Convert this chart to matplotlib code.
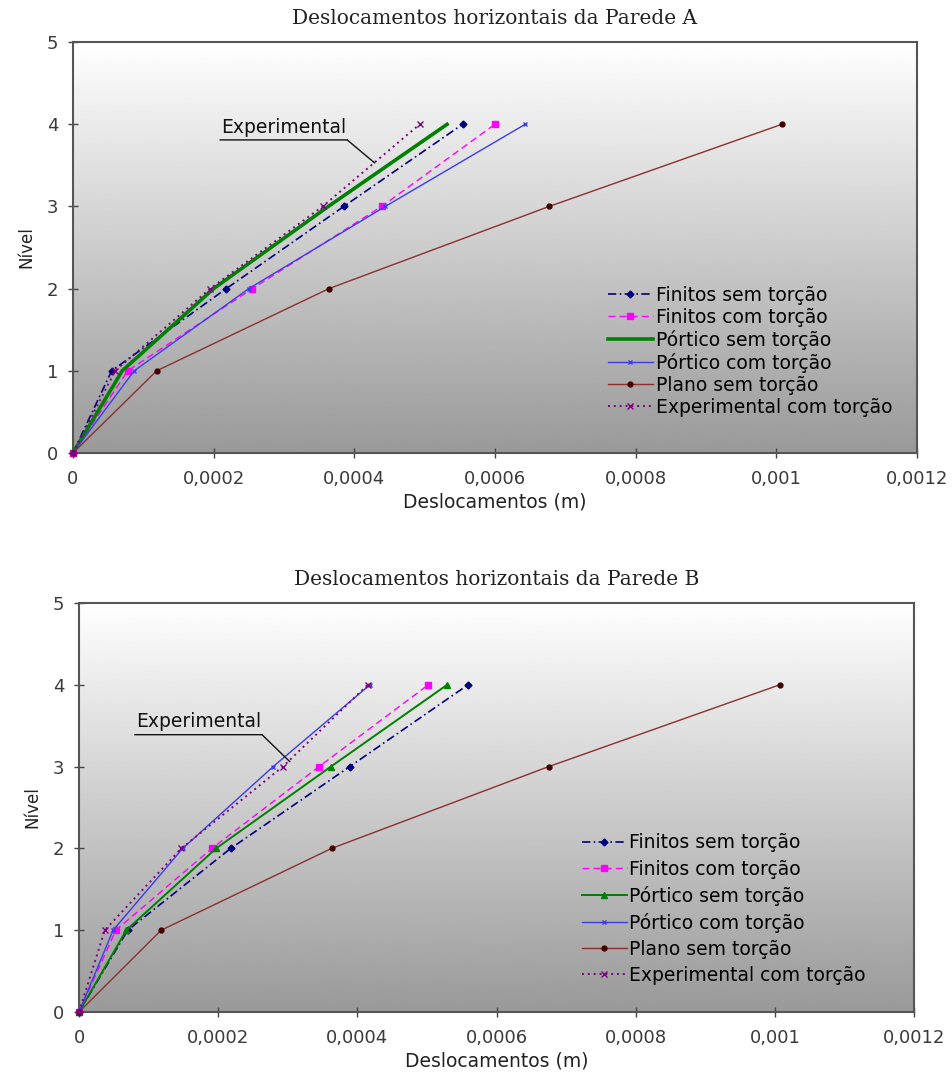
import matplotlib
matplotlib.use("Agg")
import matplotlib.pyplot as plt
import numpy as np

plt.rcParams['font.family'] = ['DejaVu Sans']

niveis = [0, 1, 2, 3, 4]

# Parede A - deslocamentos (m) por nivel
a_finitos_sem = [0, 0.000055, 0.000218, 0.000385, 0.000554]
a_finitos_com = [0, 0.000078, 0.000255, 0.000439, 0.000600]
a_portico_sem = [0, 0.000070, 0.000200, 0.000363, 0.000532]
a_portico_com = [0, 0.000087, 0.000250, 0.000444, 0.000643]
a_plano_sem = [0, 0.000119, 0.000364, 0.000677, 0.001008]
a_experimental = [0, 0.000060, 0.000195, 0.000355, 0.000493]

# Parede B
b_finitos_sem = [0, 0.000070, 0.000218, 0.000389, 0.000559]
b_finitos_com = [0, 0.000053, 0.000191, 0.000345, 0.000502]
b_portico_sem = [0, 0.000068, 0.000197, 0.000362, 0.000529]
b_portico_com = [0, 0.000049, 0.000149, 0.000279, 0.000418]
b_plano_sem = [0, 0.000118, 0.000363, 0.000675, 0.001007]
b_experimental = [0, 0.000037, 0.000147, 0.000293, 0.000415]

labels = ["Finitos sem torção", "Finitos com torção", "Pórtico sem torção",
          "Pórtico com torção", "Plano sem torção", "Experimental com torção"]
xticks = [0, 0.0002, 0.0004, 0.0006, 0.0008, 0.001, 0.0012]
xticklabels = ["0", "0,0002", "0,0004", "0,0006", "0,0008", "0,001", "0,0012"]


def grafico(ax, dados, titulo, lw_portico, mk_portico, leg_pos, leg_esp, anot):
    grad = np.linspace(1.0, 0.6, 256).reshape(-1, 1)
    ax.imshow(grad, cmap='gray', vmin=0, vmax=1, aspect='auto',
              extent=[0, 1, 0, 1], transform=ax.transAxes, zorder=0)
    estilos = [
        dict(color='#000080', ls=(0, (5, 2, 1, 2)), marker='D', ms=3.5, lw=1.2),
        dict(color='#ff00ff', ls=(0, (5, 3)), marker='s', ms=5, lw=1.0),
        dict(color='#008000', ls='-', marker=mk_portico, ms=4, lw=lw_portico),
        dict(color='#3b3bf0', ls='-', marker='x', ms=3.5, lw=1.0),
        dict(color='#8b2f2f', ls='-', marker='o', ms=3.5, lw=1.0,
             markerfacecolor='#400000', markeredgecolor='#400000'),
        dict(color='#800080', ls=(0, (1, 2)), marker='x', ms=4, lw=1.4),
    ]
    for d, lab, st in zip(dados, labels, estilos):
        ax.plot(d, niveis, label=lab, zorder=3, clip_on=False, **st)

    ax.set_xlim(0, 0.0012)
    ax.set_ylim(0, 5)
    ax.set_xticks(xticks)
    ax.set_xticklabels(xticklabels)
    ax.set_yticks(range(6))
    ax.tick_params(direction='inout', length=7, width=1, labelsize=13,
                   labelcolor='#3a3a3a', color='#444444')
    ax.tick_params(axis='x', pad=9)
    ax.tick_params(axis='y', pad=7)
    for s in ax.spines.values():
        s.set_color('#555555')
        s.set_linewidth(1.5)
    ax.set_title(titulo, family=['DejaVu Serif'], fontsize=14.5,
                 color='#222222', pad=13)
    ax.set_xlabel("Deslocamentos (m)", fontsize=13.5, color='#222222', labelpad=3)
    ax.set_ylabel("Nível", fontsize=12, color='#222222', labelpad=8)
    ax.legend(loc='upper left', bbox_to_anchor=leg_pos, frameon=False,
              fontsize=13.5, handlelength=2.4, handletextpad=0.15,
              labelspacing=leg_esp, borderaxespad=0)

    # texto "Experimental" sublinhado com linha de chamada
    x0, x1, yl, xp, yp = anot
    ax.text((x0 + x1) / 2, yl + 0.04, "Experimental", ha='center', va='bottom',
            fontsize=13.5, color='#111111', zorder=4)
    ax.annotate("", xy=(x0, yl), xytext=(x1, yl),
                arrowprops=dict(arrowstyle='-', color='#111111', lw=1.0,
                                shrinkA=0, shrinkB=0))
    ax.annotate("", xy=(xp, yp), xytext=(x1, yl),
                arrowprops=dict(arrowstyle='-', color='#111111', lw=1.0,
                                shrinkA=0, shrinkB=0))


fig = plt.figure(figsize=(9.53, 10.81), dpi=100)
ax1 = fig.add_axes([0.0766, 0.581, 0.8854, 0.380])
ax2 = fig.add_axes([0.0829, 0.0638, 0.8762, 0.3784])

grafico(ax1, [a_finitos_sem, a_finitos_com, a_portico_sem, a_portico_com,
              a_plano_sem, a_experimental],
        "Deslocamentos horizontais da Parede A", 2.6, None, (0.625, 0.425), 0.16,
        (0.000209, 0.000390, 3.81, 0.000429, 3.53))
grafico(ax2, [b_finitos_sem, b_finitos_com, b_portico_sem, b_portico_com,
              b_plano_sem, b_experimental],
        "Deslocamentos horizontais da Parede B", 1.4, '^', (0.593, 0.455), 0.38,
        (0.00008, 0.000263, 3.39, 0.000303, 3.06))

fig.savefig("out.png", dpi=100)
